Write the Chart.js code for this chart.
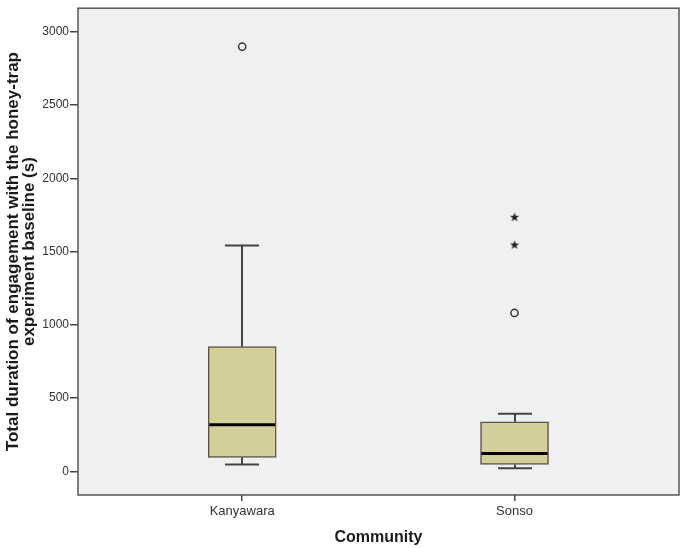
<!DOCTYPE html>
<html><head><meta charset="utf-8">
<script src="https://cdn.jsdelivr.net/npm/chart.js@4"></script>
<style>html,body{margin:0;padding:0;background:#fff}</style>
</head><body>
<canvas id="c" width="685" height="548"></canvas>
<script>
const categories = ['Kanyawara', 'Sonso'];
const whiskerLow = [47, 20];
const q1 = [95, 47];
const median = [318, 122];
const q3 = [851, 338];
const whiskerHigh = [1541, 392];
const outlierCircles = [[2899], [1081]];
const outlierStars = [[], [1547, 1736]];
const yTicks = [0, 500, 1000, 1500, 2000, 2500, 3000];

// star marker image
const star = document.createElement('canvas');
star.width = 10; star.height = 10;
(function(){
  const g = star.getContext('2d');
  g.fillStyle = '#222';
  g.beginPath();
  for (let k = 0; k < 10; k++) {
    const r = k % 2 === 0 ? 4.8 : 2.0;
    const a = -Math.PI / 2 + k * Math.PI / 5;
    const px = 5 + r * Math.cos(a), py = 5.3 + r * Math.sin(a);
    if (k === 0) g.moveTo(px, py); else g.lineTo(px, py);
  }
  g.closePath(); g.fill();
})();

const boxData = categories.map((c, i) => ({x: i, y: [q1[i], q3[i]]}));
const circleData = [];
outlierCircles.forEach((arr, i) => arr.forEach(v => circleData.push({x: i, y: v})));
const starData = [];
outlierStars.forEach((arr, i) => arr.forEach(v => starData.push({x: i, y: v})));

const boxPlugin = {
  id: 'boxparts',
  beforeDraw(chart) {
    const {ctx, chartArea: a} = chart;
    ctx.save();
    ctx.fillStyle = '#F0F0F0';
    ctx.fillRect(a.left, a.top, a.right - a.left, a.bottom - a.top);
    ctx.restore();
  },
  beforeDatasetsDraw(chart) {
    const {ctx} = chart;
    const xs = chart.scales.x, ys = chart.scales.y;
    ctx.save();
    ctx.strokeStyle = '#444';
    ctx.lineWidth = 2;
    categories.forEach((c, i) => {
      const cx = Math.round(xs.getPixelForValue(i));
      const half = 17;
      const segs = [[q3[i], whiskerHigh[i]], [q1[i], whiskerLow[i]]];
      segs.forEach(([from, to]) => {
        const y0 = ys.getPixelForValue(from), y1 = ys.getPixelForValue(to);
        ctx.beginPath(); ctx.moveTo(cx, y0); ctx.lineTo(cx, y1); ctx.stroke();
        ctx.beginPath(); ctx.moveTo(cx - half, y1); ctx.lineTo(cx + half, y1); ctx.stroke();
      });
    });
    ctx.restore();
  },
  afterDatasetsDraw(chart) {
    const {ctx} = chart;
    const ys = chart.scales.y;
    const meta = chart.getDatasetMeta(0);
    ctx.save();
    ctx.strokeStyle = '#000';
    ctx.lineWidth = 3;
    categories.forEach((c, i) => {
      const el = meta.data[i];
      const w = el.width / 2;
      const y = ys.getPixelForValue(median[i]);
      ctx.beginPath(); ctx.moveTo(el.x - w + 1, y); ctx.lineTo(el.x + w - 1, y); ctx.stroke();
    });
    ctx.restore();
  },
  afterDraw(chart) {
    const {ctx, chartArea: a} = chart;
    ctx.save();
    ctx.strokeStyle = '#555';
    ctx.lineWidth = 1.5;
    ctx.strokeRect(a.left, a.top, a.right - a.left, a.bottom - a.top);
    ctx.restore();
  }
};

new Chart(document.getElementById('c'), {
  type: 'bar',
  data: {
    datasets: [
      {
        type: 'bar',
        data: boxData,
        backgroundColor: '#D4CF9A',
        borderColor: '#555548',
        borderWidth: 1.5,
        borderSkipped: false,
        barThickness: 68
      },
      {
        type: 'scatter',
        data: circleData,
        pointStyle: 'circle',
        radius: 3.6,
        borderWidth: 1.5,
        borderColor: '#333',
        backgroundColor: 'rgba(0,0,0,0)'
      },
      {
        type: 'scatter',
        data: starData,
        pointStyle: star,
        radius: 5
      }
    ]
  },
  plugins: [boxPlugin],
  options: {
    responsive: false,
    animation: false,
    devicePixelRatio: 1,
    layout: {padding: {top: 3, right: 3, left: 0, bottom: 0}},
    plugins: {legend: {display: false}, tooltip: {enabled: false}},
    scales: {
      x: {
        type: 'linear',
        offset: false,
        min: -0.603,
        max: 1.604,
        afterBuildTicks: s => { s.ticks = categories.map((c, i) => ({value: i})); },
        afterFit: s => { s.height = 53; },
        ticks: {
          callback: v => categories[v] ?? '',
          font: {family: 'Liberation Sans, Arial, sans-serif', size: 13},
          color: '#333',
          padding: 3,
          maxRotation: 0
        },
        grid: {offset: false, drawOnChartArea: false, drawTicks: true, tickLength: 6, color: '#444', lineWidth: 1.5},
        border: {display: false},
        title: {
          display: true,
          text: 'Community',
          font: {family: 'Liberation Sans, Arial, sans-serif', size: 16, weight: 'bold'},
          color: '#1a1a1a',
          padding: {top: 0, bottom: 1}
        }
      },
      y: {
        type: 'linear',
        min: -162,
        max: 3162,
        afterBuildTicks: s => { s.ticks = yTicks.map(v => ({value: v})); },
        afterFit: s => { s.width = 78; },
        ticks: {
          callback: v => String(v),
          font: {family: 'Liberation Sans, Arial, sans-serif', size: 12},
          color: '#333',
          padding: 1
        },
        grid: {drawOnChartArea: false, drawTicks: true, tickLength: 8, color: '#444', lineWidth: 1.5},
        border: {display: false},
        title: {
          display: true,
          text: ['Total duration of engagement with the honey-trap', 'experiment baseline (s)'],
          font: {family: 'Liberation Sans, Arial, sans-serif', size: 17, weight: 'bold', lineHeight: '16px'},
          color: '#1a1a1a',
          padding: {top: 5, bottom: 0}
        }
      }
    }
  }
});
</script>
</body></html>
